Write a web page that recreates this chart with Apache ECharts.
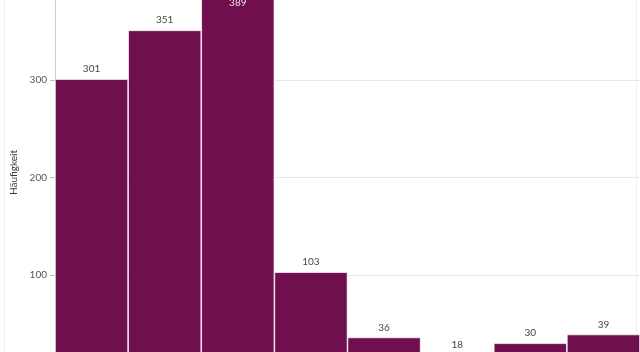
<!DOCTYPE html>
<html>
<head>
<meta charset="utf-8">
<script src="https://cdn.jsdelivr.net/npm/echarts@6/dist/echarts.min.js"></script>
<style>
html, body { margin: 0; padding: 0; background: #fff; }
#chart { width: 640px; height: 352px; }
</style>
</head>
<body>
<div id="chart"></div>
<script>
// Klassen (x-Achse ist im Ausschnitt nicht sichtbar)
var categories = ['1', '2', '3', '4', '5', '6', '7', '8'];
var counts = [301, 351, 389, 103, 36, 18, 30, 39];
var yTicks = [0, 100, 200, 300, 400];

var barColor = '#6f0f4e';

var chart = echarts.init(document.getElementById('chart'));

var data = counts.map(function (v, i) {
	var item = { value: v };
	// der höchste Balken ragt über den Rand, Beschriftung innen
	if (v === 389) {
		item.label = { position: 'insideTop', distance: 5, color: '#f2dde9' };
	}
	return item;
});

var option = {
	backgroundColor: '#fff',
	animation: false,
	textStyle: { fontFamily: 'Lato' },
	grid: {
		left: 55,
		right: 0,
		top: -17.5,
		bottom: -20.5,
		containLabel: false,
		outerBoundsMode: 'none'
	},
	xAxis: {
		type: 'category',
		data: categories,
		axisLine: { show: false },
		axisTick: { show: false },
		axisLabel: { show: false }
	},
	yAxis: {
		type: 'value',
		min: yTicks[0],
		max: yTicks[yTicks.length - 1],
		interval: 100,
		name: 'Häufigkeit',
		nameLocation: 'middle',
		nameGap: 36,
		nameRotate: 90,
		nameTextStyle: { color: '#333', fontSize: 10, padding: [0, 0, 0, 10] },
		axisLine: { show: true, lineStyle: { color: '#cccccc', width: 1 } },
		axisTick: { show: true, length: 5, lineStyle: { color: '#bbbbbb' } },
		axisLabel: { color: '#555', fontSize: 10, margin: 8 },
		splitLine: { show: true, lineStyle: { color: '#e8e8e8', width: 1 } }
	},
	series: [{
		type: 'bar',
		data: data,
		barCategoryGap: 0,
		itemStyle: {
			color: barColor,
			borderColor: '#ffffff',
			borderWidth: 0.7
		},
		label: {
			show: true,
			position: 'top',
			distance: 5,
			color: '#444',
			fontSize: 10
		}
	}],
	graphic: [{
		type: 'rect',
		silent: true,
		shape: { x: 4.5, y: -2, width: 632, height: 360 },
		style: { fill: 'none', stroke: '#f0f0f0', lineWidth: 1 }
	}]
};

chart.setOption(option);
</script>
</body>
</html>
